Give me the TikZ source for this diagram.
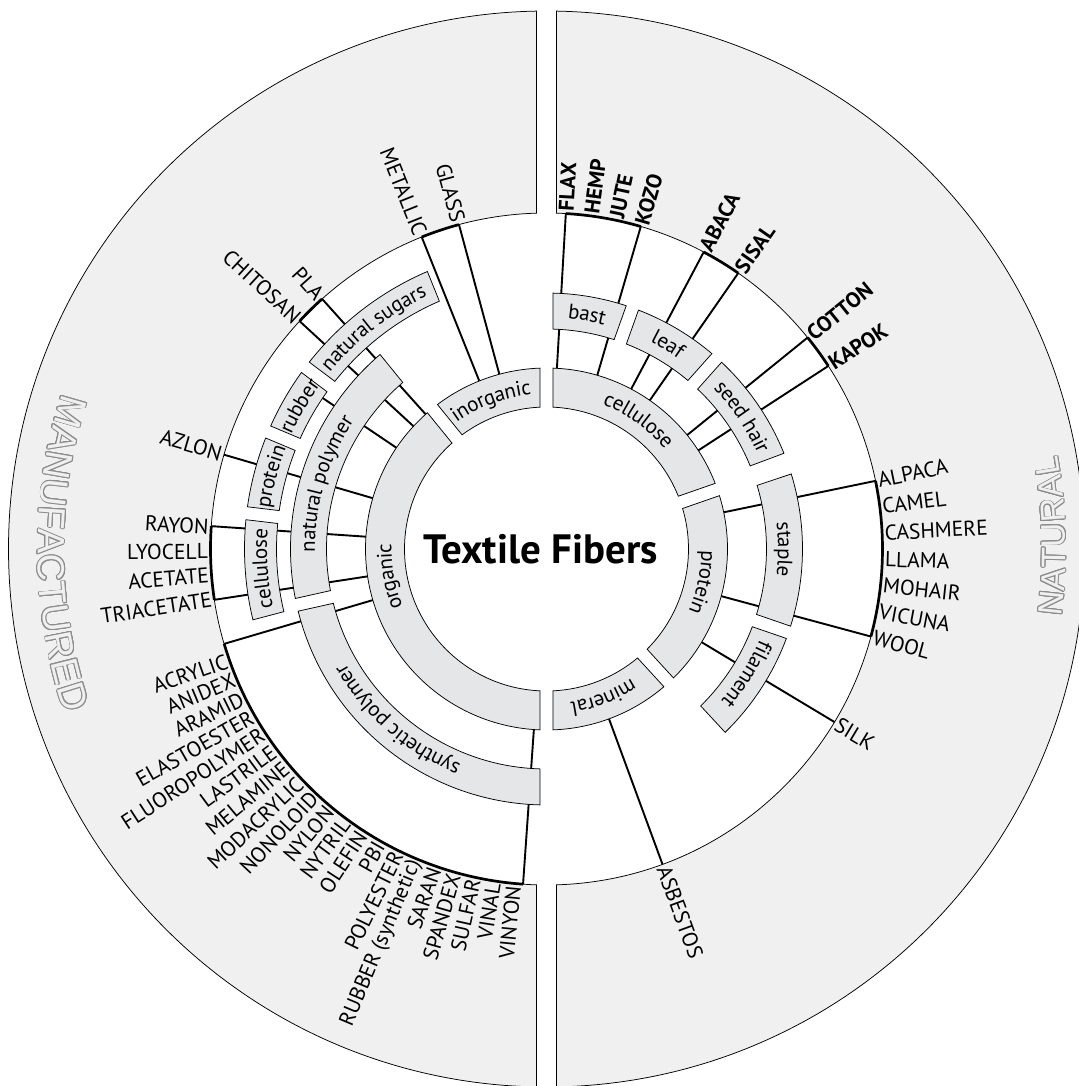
\documentclass[tikz,border=0pt]{standalone}
\usepackage{fontspec}
\setmainfont{PT Sans}
\newfontfamily\widefont{Liberation Sans}
\usepackage{contour}
\contourlength{0.9pt}
\usetikzlibrary{decorations.text}
\definecolor{ringfill}{RGB}{240,240,240}
\definecolor{secfill}{RGB}{229,230,232}
\definecolor{olcol}{RGB}{140,140,140}
\newcommand\lblfont{\fontsize{21}{25}\selectfont}
% sector: a1 a2 r1 r2 (a1<a2), constant-width gap
\newcommand\mysector[4]{%
  \pgfmathsetmacro\dIn{asin(6.5/#3)}%
  \pgfmathsetmacro\dOut{asin(6.5/#4)}%
  \pgfmathsetmacro\aS{#1+\dOut}\pgfmathsetmacro\aE{#2-\dOut}%
  \pgfmathsetmacro\bS{#2-\dIn}\pgfmathsetmacro\bE{#1+\dIn}%
  \path[sector] (\aS:#4pt) arc[start angle=\aS, end angle=\aE, radius=#4pt]
     -- (\bS:#3pt) arc[start angle=\bS, end angle=\bE, radius=#3pt] -- cycle;}
% curved label: centre angle, radius, text
\newcommand\arclabel[3]{%
  \pgfmathsetmacro\lS{#1+45}\pgfmathsetmacro\lE{#1-45}%
  \path[decorate, decoration={text along path, text={|\lblfont|#3}, text align=center, raise=-6.5pt}]
     (\lS:#2pt) arc[start angle=\lS, end angle=\lE, radius=#2pt];}
\newcommand\grparc[2]{\draw[grp] (#1:336pt) arc[start angle=#1, end angle=#2, radius=336pt];}
\begin{document}
\begin{tikzpicture}[
  sector/.style={fill=secfill, draw=black, line width=0.75pt},
  ringpiece/.style={fill=ringfill, draw=black, line width=0.75pt},
  conn/.style={draw=black, line width=1.9pt},
  grp/.style={draw=black, line width=2.7pt},
  leafr/.style={anchor=west, inner sep=2.5pt, font=\fontsize{21.5}{24}\selectfont},
  leafl/.style={anchor=east, inner sep=2.5pt, font=\fontsize{21.5}{24}\selectfont},
  bigl/.style={inner sep=0pt, font=\widefont\fontsize{38}{40}\selectfont},
  bign/.style={inner sep=0pt, font=\widefont\fontsize{34}{36}\selectfont},
]
\useasboundingbox (-546.5pt,-537pt) rectangle (531.5pt,549pt);

% outer ring halves
\path[ringpiece] (91.065:538pt) arc[start angle=91.065, end angle=268.935, radius=538pt]
   -- (268.294:336pt) arc[start angle=268.294, end angle=91.706, radius=336pt] -- cycle;
\path[ringpiece] (88.935:538pt) arc[start angle=88.935, end angle=-88.935, radius=538pt]
   -- (-88.294:336pt) arc[start angle=-88.294, end angle=88.294, radius=336pt] -- cycle;

% group arcs on the leaf circle
\grparc{73.7}{86.7}
\grparc{55.2}{62.1}
\grparc{33}{39}
\grparc{-15.1}{11.7}
\grparc{105.1}{111.8}
\grparc{131.9}{137.3}
\grparc{176.1}{188.7}
\grparc{196.4}{266}

% connectors, natural side
\foreach \a in {86.7,73.7,62.1,55.2,39,33,11.7,-15.1,-31}{
  \draw[conn] (\a:178pt) -- (\a:223pt);
  \draw[conn] (\a:252pt) -- (\a:336pt);}
\draw[conn] (-69.8:178pt) -- (-69.8:336pt);
% connectors, manufactured side
\foreach \a in {105.1,111.8}{\draw[conn] (\a:178pt) -- (\a:336pt);}
\foreach \a in {131.9,137.3,146,163.7,176.1,188.7,196.4,266}{\draw[conn] (\a:178pt) -- (\a:223pt);}
\foreach \a in {131.9,137.3,146,163.7,176.1,188.7}{\draw[conn] (\a:252pt) -- (\a:273pt);}
\foreach \a in {131.9,137.3,163.7,176.1,188.7}{\draw[conn] (\a:299pt) -- (\a:336pt);}
\foreach \a in {196.4,266}{\draw[conn] (\a:252pt) -- (\a:336pt);}

% sectors, natural side
\mysector{19.2}{90}{142}{181}
\mysector{-47.5}{19.2}{142}{181}
\mysector{-90}{-47.5}{142}{181}
\mysector{70.4}{90}{220}{256}
\mysector{48.3}{70.4}{220}{256}
\mysector{20.5}{48.3}{220}{256}
\mysector{-19}{18.5}{220}{256}
\mysector{-47.2}{-19}{220}{256}
% sectors, manufactured side
\mysector{90}{129.1}{142}{181}
\mysector{129.1}{270}{142}{181}
\mysector{129.1}{192.6}{220}{256}
\mysector{192.6}{270}{220}{256}
\mysector{112}{143}{270}{302}
\mysector{143}{157.2}{270}{302}
\mysector{157.2}{173.2}{270}{302}
\mysector{173.2}{194.8}{270}{302}

% curved sector labels
\arclabel{54.5}{161.5}{cellulose}
\arclabel{-12}{161.5}{protein}
\arclabel{-69}{161.5}{mineral}
\arclabel{80.2}{238}{bast}
\arclabel{59.3}{238}{leaf}
\arclabel{34}{238}{seed hair}
\arclabel{0}{238}{staple}
\arclabel{-32}{238}{filament}
\arclabel{110.5}{161.5}{inorganic}
\arclabel{190}{161.5}{organic}
\arclabel{163.5}{238}{natural polymer}
\arclabel{229}{238}{synthetic polymer}
\arclabel{128}{286}{natural sugars}
\arclabel{150}{286}{rubber}
\arclabel{165.2}{286}{protein}
\arclabel{184}{286}{cellulose}

% leaf labels, natural side
\foreach \a/\t [count=\i] in {86.7/FLAX,82.367/HEMP,78.033/JUTE,73.7/KOZO,62.1/ABACA,55.2/SISAL,39/COTTON,33/KAPOK}{
  \node[leafr, font=\bfseries\fontsize{21.5}{24}\selectfont, rotate=\a] (nb\i) at (\a:336pt) {\t};}
\foreach \a/\t [count=\i] in {11.7/ALPACA,7.233/CAMEL,2.767/CASHMERE,-1.7/LLAMA,-6.167/MOHAIR,-10.633/VICUNA,-15.1/WOOL,-31/SILK,-69.8/ASBESTOS}{
  \node[leafr, rotate=\a] (nr\i) at (\a:336pt) {\t};}
% leaf labels, manufactured side
\foreach \a/\t [count=\i] in {105.1/GLASS,111.8/METALLIC,131.9/PLA,137.3/CHITOSAN,163.7/AZLON,176.3/RAYON,180.4/LYOCELL,184.5/ACETATE,188.6/TRIACETATE}{
  \pgfmathsetmacro\rr{\a+180}
  \node[leafl, rotate=\rr] (ml\i) at (\a:336pt) {\t};}
\foreach \t [count=\i from 0] in {ACRYLIC,ANIDEX,ARAMID,ELASTOESTER,FLUOROPOLYMER,LASTRILE,MELAMINE,MODACRYLIC,NONOLOID,NYLON,NYTRIL,OLEFIN,PBI,POLYESTER,RUBBER (synthetic),SARAN,SPANDEX,SULFAR,VINAL,VINYON}{
  \pgfmathsetmacro\a{199.3+3.426*\i}
  \pgfmathsetmacro\rr{\a+180}
  \node[leafl, rotate=\rr] (sy\i) at (\a:336pt) {\t};}

% outlined category titles
\foreach \l/\a [count=\i] in {M/163.93,A/167.22,N/170.26,U/173.43,F/176.36,A/179.16,C/182.20,T/185.13,U/188.05,R/191.22,E/194.27,D/197.31}{
  \pgfmathsetmacro\rr{\a+90}
  \node[bigl, rotate=\rr] (mf\i) at (\a:496pt) {\contour{olcol}{\textcolor{ringfill}{\l}}};}
\foreach \l/\a [count=\i] in {N/-6.12,A/-3.45,T/-0.99,U/1.57,R/4.34,A/7.0,L/9.35}{
  \pgfmathsetmacro\rr{\a+90}
  \node[bign, rotate=\rr] (nt\i) at (\a:508pt) {\contour{olcol}{\textcolor{ringfill}{\l}}};}

\node[font=\bfseries\fontsize{41}{45}\selectfont, inner sep=0pt] (title) at (-6pt,0pt) {Textile Fibers};
\end{tikzpicture}
\end{document}
